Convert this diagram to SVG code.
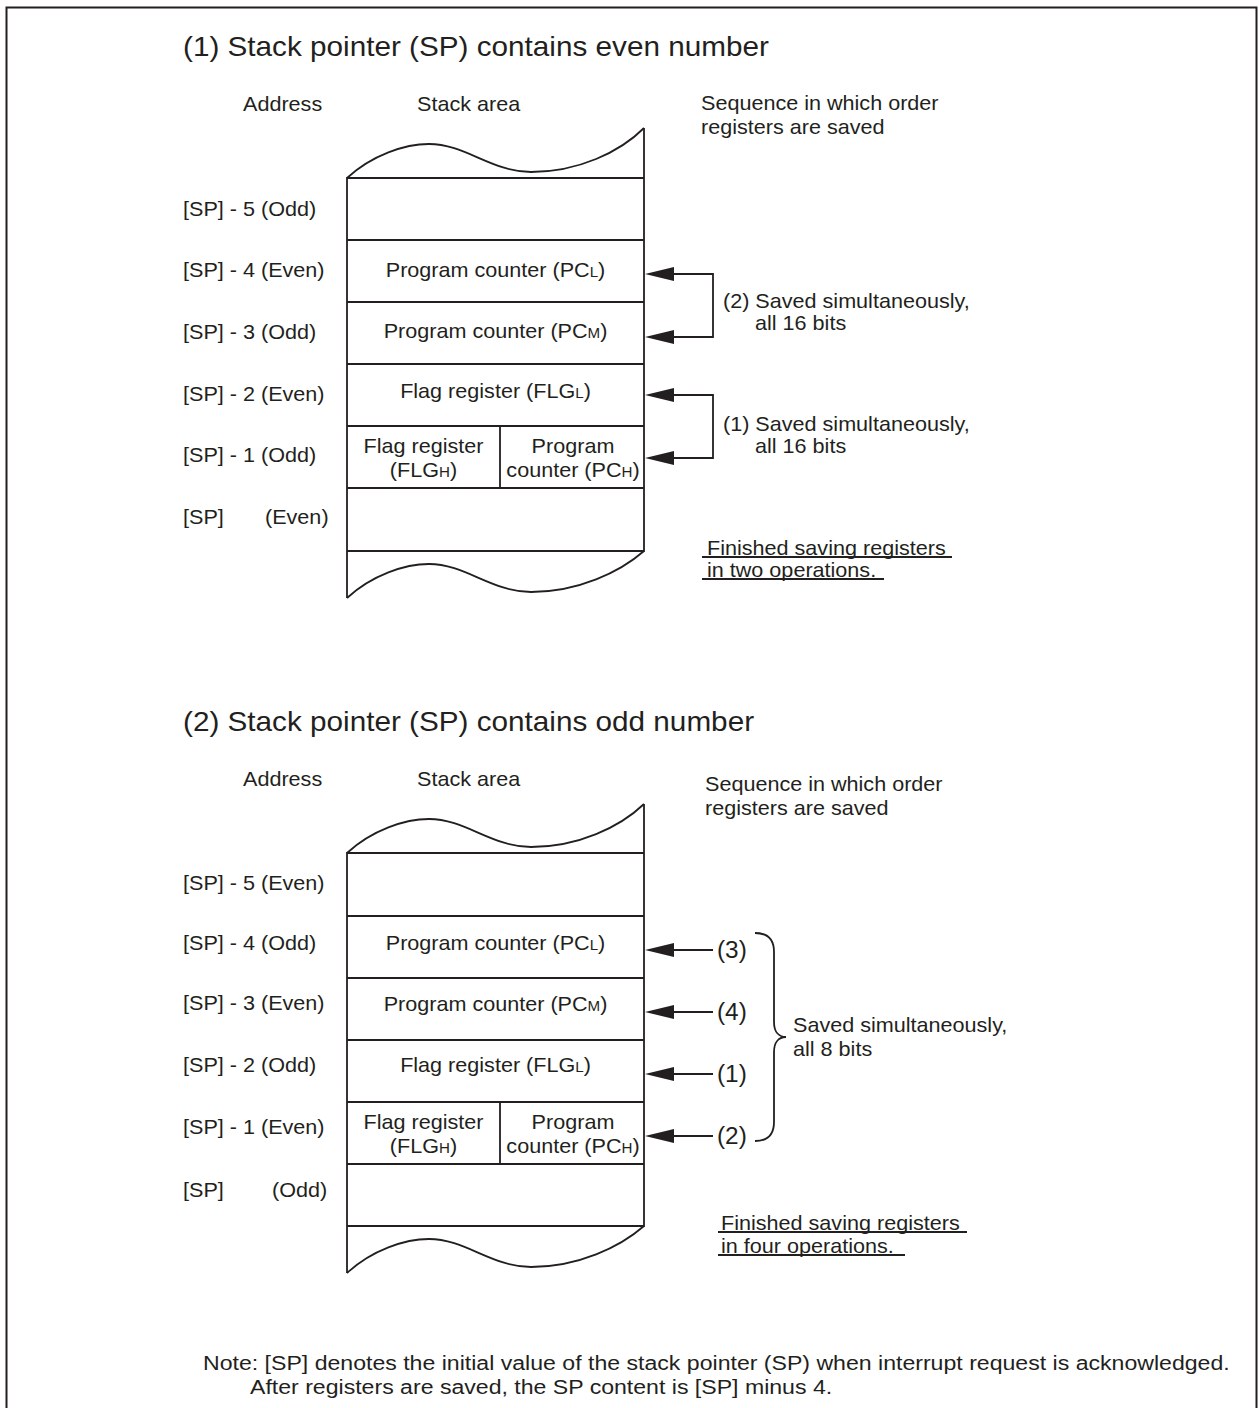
<svg xmlns="http://www.w3.org/2000/svg" width="1259" height="1408" viewBox="0 0 1259 1408">
<style>
.t{font-family:"Liberation Sans",Arial,Helvetica,sans-serif;font-size:20px;fill:#231f20}
.h{font-size:27px}
.n{font-size:23px}
.nt{font-size:21px}
.m{text-anchor:middle}
.s{font-size:14px}
.ln{fill:none;stroke:#231f20;stroke-width:1.8}
.fr{fill:none;stroke:#231f20;stroke-width:2}
.ah{fill:#231f20;stroke:none}
</style>
<defs>
<path id="ahd" d="M0,0 L29,-7 L29,7 Z"/>
</defs>
<rect width="1259" height="1408" fill="#fff"/>
<path class="fr" d="M6.5,1408 V7.5 H1256.5 V1408"/>

<!-- Section 1 -->
<g id="section1">
<text class="t h" transform="translate(183,56) scale(1.1,1)">(1) Stack pointer (SP) contains even number</text>
<text class="t" transform="translate(243,111) scale(1.08,1)">Address</text>
<text class="t" transform="translate(417,111) scale(1.08,1)">Stack area</text>
<text class="t" transform="translate(701,110) scale(1.08,1)">Sequence in which order</text>
<text class="t" transform="translate(701,134) scale(1.08,1)">registers are saved</text>
<g id="addr1">
<text class="t" transform="translate(183,216) scale(1.08,1)">[SP] - 5 (Odd)</text>
<text class="t" transform="translate(183,277) scale(1.08,1)">[SP] - 4 (Even)</text>
<text class="t" transform="translate(183,339) scale(1.08,1)">[SP] - 3 (Odd)</text>
<text class="t" transform="translate(183,401) scale(1.08,1)">[SP] - 2 (Even)</text>
<text class="t" transform="translate(183,462) scale(1.08,1)">[SP] - 1 (Odd)</text>
<text class="t" transform="translate(183,524) scale(1.08,1)">[SP]</text>
<text class="t" transform="translate(265,524) scale(1.08,1)">(Even)</text>
</g>
<g id="stack1">
<path class="ln" d="M347,178 C372,155 405,144 429,144 C465,144 492,172 531,172 C578,172 620,152 644,128"/>
<path class="ln" d="M347,598 V178 H644 M644,128 V551 H347 M347,240 H644 M347,302 H644 M347,364 H644 M347,426 H644 M347,488 H644 M500,426 V488"/>
<path class="ln" d="M347,598 C372,575 405,564 429,564 C465,564 492,592 531,592 C578,592 620,572 644,551"/>
</g>
<g id="s1-pcl"><text class="t m" transform="translate(495.5,277) scale(1.08,1)">Program counter (PC<tspan class="s">L</tspan>)</text></g>
<g id="s1-pcm"><text class="t m" transform="translate(495.5,338) scale(1.08,1)">Program counter (PC<tspan class="s">M</tspan>)</text></g>
<g id="s1-flgl"><text class="t m" transform="translate(495.5,398) scale(1.08,1)">Flag register (FLG<tspan class="s">L</tspan>)</text></g>
<g id="s1-flgh">
<text class="t m" transform="translate(423.5,453) scale(1.08,1)">Flag register</text>
<text class="t m" transform="translate(423.5,477) scale(1.08,1)">(FLG<tspan class="s">H</tspan>)</text>
</g>
<g id="s1-pch">
<text class="t m" transform="translate(573,453) scale(1.08,1)">Program</text>
<text class="t m" transform="translate(573,477) scale(1.08,1)">counter (PC<tspan class="s">H</tspan>)</text>
</g>
<g id="s1-note2">
<text class="t" transform="translate(723,308) scale(1.08,1)">(2) Saved simultaneously,</text>
<text class="t" transform="translate(755,330) scale(1.08,1)">all 16 bits</text>
</g>
<g id="s1-note1">
<text class="t" transform="translate(723,431) scale(1.08,1)">(1) Saved simultaneously,</text>
<text class="t" transform="translate(755,453) scale(1.08,1)">all 16 bits</text>
</g>
<g id="s1-finished">
<text class="t" transform="translate(707,555) scale(1.08,1)">Finished saving registers</text>
<text class="t" transform="translate(707,577) scale(1.08,1)">in two operations.</text>
<path class="ln" d="M702,557 H952 M702,579 H884"/>
</g>
</g>

<!-- Section 2 -->
<g id="section2">
<text class="t h" transform="translate(183,731) scale(1.1,1)">(2) Stack pointer (SP) contains odd number</text>
<text class="t" transform="translate(243,786) scale(1.08,1)">Address</text>
<text class="t" transform="translate(417,786) scale(1.08,1)">Stack area</text>
<text class="t" transform="translate(705,791) scale(1.08,1)">Sequence in which order</text>
<text class="t" transform="translate(705,815) scale(1.08,1)">registers are saved</text>
<g id="addr2">
<text class="t" transform="translate(183,890) scale(1.08,1)">[SP] - 5 (Even)</text>
<text class="t" transform="translate(183,950) scale(1.08,1)">[SP] - 4 (Odd)</text>
<text class="t" transform="translate(183,1010) scale(1.08,1)">[SP] - 3 (Even)</text>
<text class="t" transform="translate(183,1072) scale(1.08,1)">[SP] - 2 (Odd)</text>
<text class="t" transform="translate(183,1134) scale(1.08,1)">[SP] - 1 (Even)</text>
<text class="t" transform="translate(183,1197) scale(1.08,1)">[SP]</text>
<text class="t" transform="translate(272,1197) scale(1.08,1)">(Odd)</text>
</g>
<g id="stack2">
<path class="ln" d="M347,853 C372,830 405,819 429,819 C465,819 492,847 531,847 C578,847 620,827 644,804"/>
<path class="ln" d="M347,1273 V853 H644 M644,804 V1226 H347 M347,916 H644 M347,978 H644 M347,1040 H644 M347,1102 H644 M347,1164 H644 M500,1102 V1164"/>
<path class="ln" d="M347,1273 C372,1250 405,1239 429,1239 C465,1239 492,1267 531,1267 C578,1267 620,1247 644,1226"/>
</g>
<g id="s2-pcl"><text class="t m" transform="translate(495.5,950) scale(1.08,1)">Program counter (PC<tspan class="s">L</tspan>)</text></g>
<g id="s2-pcm"><text class="t m" transform="translate(495.5,1011) scale(1.08,1)">Program counter (PC<tspan class="s">M</tspan>)</text></g>
<g id="s2-flgl"><text class="t m" transform="translate(495.5,1072) scale(1.08,1)">Flag register (FLG<tspan class="s">L</tspan>)</text></g>
<g id="s2-flgh">
<text class="t m" transform="translate(423.5,1129) scale(1.08,1)">Flag register</text>
<text class="t m" transform="translate(423.5,1153) scale(1.08,1)">(FLG<tspan class="s">H</tspan>)</text>
</g>
<g id="s2-pch">
<text class="t m" transform="translate(573,1129) scale(1.08,1)">Program</text>
<text class="t m" transform="translate(573,1153) scale(1.08,1)">counter (PC<tspan class="s">H</tspan>)</text>
</g>
<g id="s2-labels">
<text class="t n" transform="translate(717,958) scale(1.06,1)">(3)</text>
<text class="t n" transform="translate(717,1020) scale(1.06,1)">(4)</text>
<text class="t n" transform="translate(717,1082) scale(1.06,1)">(1)</text>
<text class="t n" transform="translate(717,1144) scale(1.06,1)">(2)</text>
</g>
<g id="s2-brace">
<path class="ln" d="M755,933 C768,933 774,940 774,952 V1022 C774,1032 779,1037 786,1037 C779,1037 774,1042 774,1052 V1122 C774,1134 768,1141 755,1141"/>
<text class="t" transform="translate(793,1032) scale(1.08,1)">Saved simultaneously,</text>
<text class="t" transform="translate(793,1056) scale(1.08,1)">all 8 bits</text>
</g>
<g id="s2-finished">
<text class="t" transform="translate(721,1230) scale(1.08,1)">Finished saving registers</text>
<text class="t" transform="translate(721,1253) scale(1.08,1)">in four operations.</text>
<path class="ln" d="M718,1232 H967 M718,1255 H905"/>
</g>
</g>

<g id="connectors">
<use href="#ahd" class="ah" x="645" y="274"/>
<use href="#ahd" class="ah" x="645" y="337"/>
<use href="#ahd" class="ah" x="645" y="395"/>
<use href="#ahd" class="ah" x="645" y="458"/>
<path class="ln" d="M673,274 H713 V337 H673 M673,395 H713 V458 H673"/>
<use href="#ahd" class="ah" x="645" y="950"/>
<use href="#ahd" class="ah" x="645" y="1012"/>
<use href="#ahd" class="ah" x="645" y="1074"/>
<use href="#ahd" class="ah" x="645" y="1136"/>
<path class="ln" d="M673,950 H713 M673,1012 H713 M673,1074 H713 M673,1136 H713"/>
</g>

<g id="note">
<text class="t nt" transform="translate(203,1370) scale(1.1,1)">Note: [SP] denotes the initial value of the stack pointer (SP) when interrupt request is acknowledged.</text>
<text class="t nt" transform="translate(250,1394) scale(1.1,1)">After registers are saved, the SP content is [SP] minus 4.</text>
</g>
</svg>
